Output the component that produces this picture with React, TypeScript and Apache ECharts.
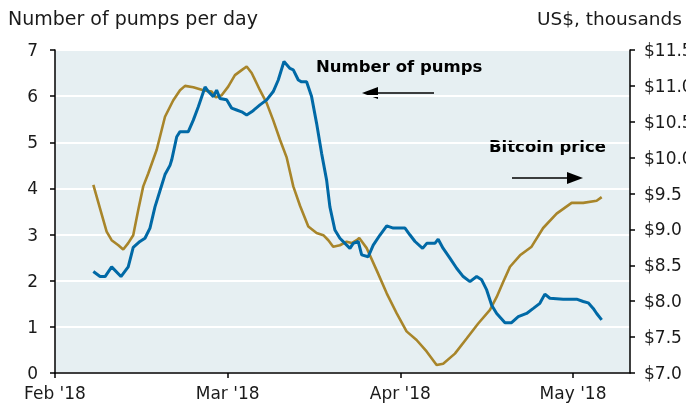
import React, { useEffect, useRef } from "react";
import * as echarts from "echarts";

// X positions are in months since 1 Feb 2018 (0 = Feb '18, 1 = Mar '18, ...)
const monthLabels = ["Feb '18", "Mar '18", "Apr '18", "May '18"];
const monthTicks = [0, 1, 2, 3];

const pumpsX = [
  0.222, 0.261, 0.29, 0.328, 0.382, 0.424, 0.453, 0.492, 0.521, 0.55, 0.579, 0.608, 0.637, 0.666, 0.676,
  0.705, 0.724, 0.772, 0.801, 0.83, 0.869, 0.888, 0.917, 0.936, 0.955, 0.994, 1.023, 1.052, 1.081, 1.11,
  1.139, 1.187, 1.226, 1.264, 1.293, 1.326, 1.361, 1.38, 1.409, 1.428, 1.457, 1.486, 1.515, 1.544, 1.573,
  1.592, 1.621, 1.65, 1.708, 1.727, 1.756, 1.776, 1.814, 1.843, 1.882, 1.921, 1.959, 2.027, 2.056, 2.085,
  2.129, 2.153, 2.2, 2.219, 2.248, 2.287, 2.326, 2.364, 2.403, 2.442, 2.471, 2.5, 2.529, 2.558, 2.606,
  2.644, 2.683, 2.731, 2.77, 2.808, 2.837, 2.866, 2.943, 3.021, 3.059, 3.088, 3.117, 3.137, 3.166,
];
const pumps = [
  2.2, 2.09, 2.09, 2.3, 2.09, 2.3, 2.72, 2.85, 2.92, 3.14, 3.6, 3.95, 4.3, 4.5, 4.62,
  5.12, 5.23, 5.23, 5.48, 5.77, 6.2, 6.1, 5.99, 6.13, 5.95, 5.92, 5.74, 5.7, 5.66, 5.59,
  5.66, 5.81, 5.92, 6.1, 6.35, 6.75, 6.6, 6.57, 6.35, 6.31, 6.31, 5.99, 5.41, 4.76, 4.18,
  3.6, 3.1, 2.92, 2.7, 2.81, 2.85, 2.56, 2.52, 2.77, 2.99, 3.19, 3.14, 3.14, 2.99, 2.85,
  2.7, 2.81, 2.81, 2.9, 2.7, 2.49, 2.27, 2.09, 1.98, 2.09, 2.02, 1.8, 1.47, 1.29, 1.09,
  1.09, 1.22, 1.29, 1.4, 1.51, 1.71, 1.62, 1.6, 1.6, 1.55, 1.52, 1.4, 1.29, 1.15,
];

const priceX = [
  0.222, 0.261, 0.299, 0.328, 0.367, 0.395, 0.424, 0.453, 0.482, 0.511, 0.54, 0.589, 0.637, 0.685, 0.724,
  0.753, 0.801, 0.859, 0.907, 0.932, 0.965, 1.003, 1.042, 1.081, 1.11, 1.139, 1.187, 1.226, 1.264, 1.303,
  1.342, 1.38, 1.419, 1.467, 1.515, 1.554, 1.583, 1.611, 1.65, 1.689, 1.718, 1.747, 1.762, 1.805, 1.863,
  1.921, 1.979, 2.036, 2.094, 2.152, 2.21, 2.248, 2.316, 2.384, 2.451, 2.519, 2.558, 2.596, 2.635, 2.693,
  2.76, 2.827, 2.905, 2.992, 3.059, 3.137, 3.166,
];
const price = [
  9.62, 9.29, 8.97, 8.85, 8.78, 8.72, 8.81, 8.92, 9.27, 9.6, 9.78, 10.11, 10.57, 10.8, 10.94,
  11.0, 10.98, 10.94, 10.92, 10.84, 10.87, 10.99, 11.15, 11.22, 11.27, 11.18, 10.94, 10.76, 10.52, 10.25,
  10.0, 9.6, 9.33, 9.04, 8.95, 8.92, 8.85, 8.76, 8.78, 8.83, 8.81, 8.85, 8.88, 8.74, 8.43,
  8.11, 7.83, 7.58, 7.46, 7.3, 7.11, 7.13, 7.27, 7.48, 7.69, 7.88, 8.06, 8.27, 8.48, 8.64,
  8.76, 9.02, 9.22, 9.37, 9.37, 9.4, 9.45,
];

const FONT = "DejaVu Sans";
const BLUE = "#0069A6";
const GOLD = "#A8852A";

export default function App() {
  const ref = useRef<HTMLDivElement>(null);
  useEffect(() => {
    const chart = echarts.init(ref.current!, null, { renderer: "svg" });
    const labelStyle = { fontFamily: FONT, fontSize: 17, color: "#1a1a1a" };
    chart.setOption({
      animation: false,
      grid: {
        left: 55,
        right: 56,
        top: 50,
        bottom: 36,
        show: true,
        backgroundColor: "#E6EFF2",
        borderWidth: 0,
        containLabel: false,
        outerBoundsMode: "none",
      },
      xAxis: {
        type: "value",
        min: 0,
        max: 3.33,
        interval: 1,
        splitLine: { show: false },
        axisLine: { show: true, lineStyle: { color: "#000", width: 1.5 } },
        axisTick: { show: true, length: 5, lineStyle: { color: "#000", width: 1.5 }, customValues: monthTicks },
        axisLabel: {
          ...labelStyle,
          margin: 11,
          customValues: monthTicks,
          formatter: (v: number) => monthLabels[Math.round(v)] ?? "",
        },
      },
      yAxis: [
        {
          type: "value",
          position: "left",
          min: 0,
          max: 7,
          interval: 1,
          axisLine: { show: true, lineStyle: { color: "#000", width: 1.5 } },
          axisTick: { show: true, length: 5, lineStyle: { color: "#000", width: 1.5 } },
          splitLine: { show: true, lineStyle: { color: "#ffffff", width: 2 } },
          axisLabel: { ...labelStyle, margin: 17 },
        },
        {
          type: "value",
          position: "right",
          min: 7,
          max: 11.5,
          interval: 0.5,
          axisLine: { show: true, lineStyle: { color: "#000", width: 1.5 } },
          axisTick: { show: true, length: 5, lineStyle: { color: "#000", width: 1.5 } },
          splitLine: { show: false },
          axisLabel: { ...labelStyle, margin: 14, formatter: (v: number) => "$" + v.toFixed(1) },
        },
      ],
      series: [
        {
          name: "Bitcoin price",
          type: "line",
          yAxisIndex: 1,
          data: priceX.map((x, i) => [x, price[i]]),
          showSymbol: false,
          symbol: "none",
          lineStyle: { color: GOLD, width: 2.6 },
          z: 2,
        },
        {
          name: "Number of pumps",
          type: "line",
          yAxisIndex: 0,
          data: pumpsX.map((x, i) => [x, pumps[i]]),
          showSymbol: false,
          symbol: "none",
          lineStyle: { color: BLUE, width: 3 },
          z: 3,
        },
      ],
      graphic: [
        {
          type: "text",
          x: 8,
          y: -11,
          style: {
            text: "Number of pumps and bitcoin price",
            fontFamily: FONT,
            fontSize: 18,
            fontWeight: "bold",
            fill: "#000",
            align: "left",
            verticalAlign: "middle",
          },
        },
        {
          type: "text",
          x: 8,
          y: 18,
          style: {
            text: "Number of pumps per day",
            fontFamily: FONT,
            fontSize: 19,
            fill: "#1a1a1a",
            align: "left",
            verticalAlign: "middle",
          },
        },
        {
          type: "text",
          x: 537,
          y: 18,
          style: {
            text: "US$, thousands",
            fontFamily: FONT,
            fontSize: 18.5,
            fill: "#1a1a1a",
            align: "left",
            verticalAlign: "middle",
          },
        },
        {
          type: "text",
          x: 316,
          y: 66,
          style: {
            text: "Number of pumps",
            fontFamily: FONT,
            fontSize: 16.5,
            fontWeight: "bold",
            fill: "#000",
            align: "left",
            verticalAlign: "middle",
          },
        },
        {
          type: "line",
          shape: { x1: 434, y1: 93, x2: 376, y2: 93 },
          style: { stroke: "#000", lineWidth: 1.5 },
        },
        {
          type: "polygon",
          shape: { points: [[362, 93], [378, 87], [378, 99]] },
          style: { fill: "#000" },
        },
        {
          type: "text",
          x: 489,
          y: 146,
          style: {
            text: "Bitcoin price",
            fontFamily: FONT,
            fontSize: 16.5,
            fontWeight: "bold",
            fill: "#000",
            align: "left",
            verticalAlign: "middle",
          },
        },
        {
          type: "line",
          shape: { x1: 512, y1: 178, x2: 570, y2: 178 },
          style: { stroke: "#000", lineWidth: 1.5 },
        },
        {
          type: "polygon",
          shape: { points: [[583, 178], [567, 172], [567, 184]] },
          style: { fill: "#000" },
        },
      ],
    });
    return () => chart.dispose();
  }, []);
  return <div ref={ref} style={{ position: "fixed", left: 0, top: 0, width: 686, height: 409 }} />;
}
